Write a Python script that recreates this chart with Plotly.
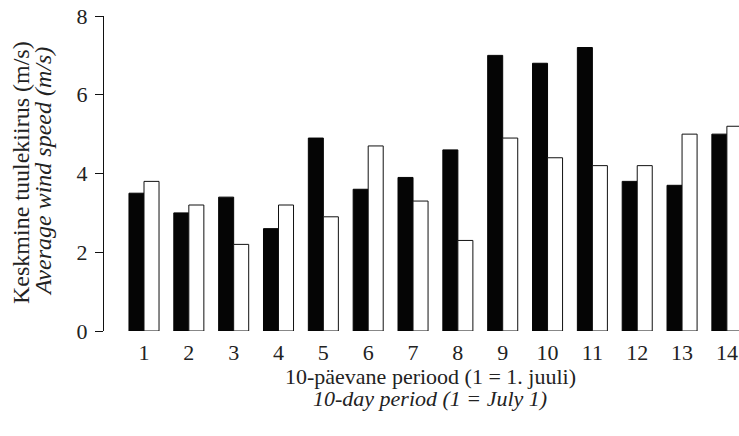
import plotly.graph_objects as go

periods = list(range(1, 15))
tick_labels = [str(p) for p in periods]
series_black = [3.5, 3.0, 3.4, 2.6, 4.9, 3.6, 3.9, 4.6, 7.0, 6.8, 7.2, 3.8, 3.7, 5.0]
series_white = [3.8, 3.2, 2.2, 3.2, 2.9, 4.7, 3.3, 2.3, 4.9, 4.4, 4.2, 4.2, 5.0, 5.2]
y_ticks = [0, 2, 4, 6, 8]

FONT = "Liberation Serif, DejaVu Serif, serif"
TXT = "#222222"

W, H = 739, 436
L, R, T, B = 104, 0, 16, 105
pw = W - L - R
ph = H - T - B


def px_to_paper(x, y):
    return (x - L) / pw, 1 - (y - T) / ph


fig = go.Figure()
fig.add_trace(go.Bar(x=periods, y=series_black,
                     marker=dict(color="#050505", line=dict(color="#050505", width=1)),
                     showlegend=False))
fig.add_trace(go.Bar(x=periods, y=series_white,
                     marker=dict(color="white", line=dict(color="#111111", width=1)),
                     showlegend=False))

annots = [
    ("10-päevane periood (1 = 1. juuli)", 430, 376, 0, 22),
    ("<i>10-day period (1 = July 1)</i>", 430, 399, 0, 22),
    ("Keskmine tuulekiirus (m/s)", 21, 172, -90, 24),
    ("<i>Average wind speed (m/s)</i>", 43, 172, -90, 24),
]
annotations = []
for text, x, y, ang, size in annots:
    xp, yp = px_to_paper(x, y)
    annotations.append(dict(text=text, x=xp, y=yp, xref="paper", yref="paper",
                            xanchor="center", yanchor="middle", textangle=ang,
                            showarrow=False, font=dict(size=size, family=FONT, color=TXT)))

fig.update_layout(
    width=W, height=H,
    margin=dict(l=L, r=R, t=T, b=B, autoexpand=False),
    paper_bgcolor="white", plot_bgcolor="white",
    barmode="group", bargap=0.33, bargroupgap=0,
    font=dict(family=FONT, size=22, color=TXT),
    xaxis=dict(range=[0.108, 14.27], tickvals=periods, ticktext=tick_labels,
               showline=False, showgrid=False, zeroline=False, ticks="",
               tickfont=dict(size=22), ticklabelstandoff=6, automargin=False,
               ticklabeloverflow="allow"),
    yaxis=dict(range=[0, 8], tickvals=y_ticks, showline=True, linecolor="#111111", linewidth=1,
               ticks="outside", ticklen=8, tickcolor="#111111", showgrid=False, zeroline=False,
               tickfont=dict(size=22), ticklabelstandoff=3, automargin=False,
               ticklabeloverflow="allow"),
    annotations=annotations,
)

fig.write_html("out.html", config={"displayModeBar": False},
               post_script="document.body.style.margin='0';")
